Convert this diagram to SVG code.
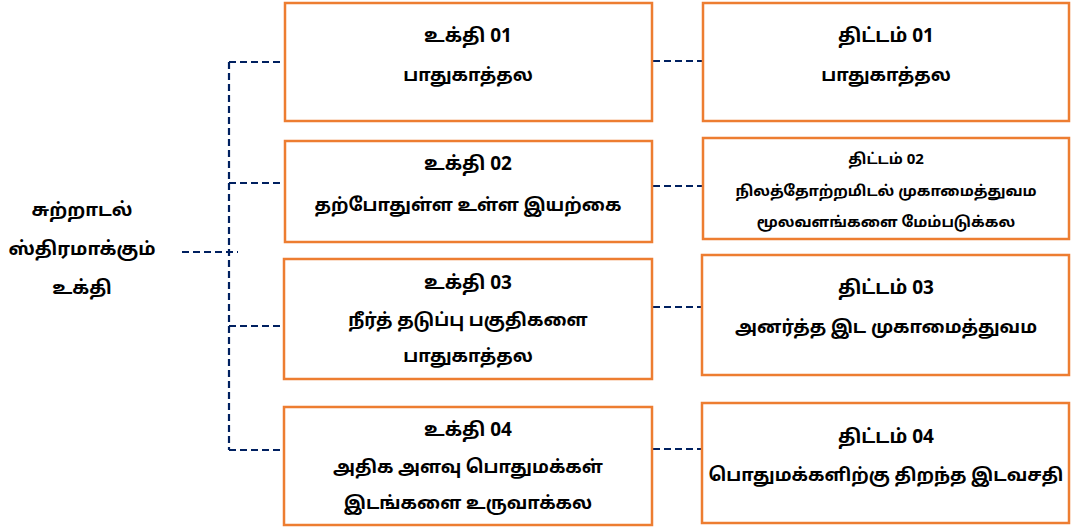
<svg xmlns="http://www.w3.org/2000/svg" width="1073" height="527" viewBox="0 0 1073 527">
  <style>
    .box { fill: #ffffff; stroke: #ED7D31; stroke-width: 2.5; }
    .conn { fill: none; stroke: #002060; stroke-width: 2.2; stroke-dasharray: 7 4; }
    text { font-family: "Noto Sans Tamil", "Noto Sans", "Latha", sans-serif; font-weight: bold; fill: #000000; text-anchor: middle; }
    .t { font-size: 19px; }
    .b { font-size: 18px; }
    .s { font-size: 15px; }
    .r { font-size: 18.5px; }
  </style>
  <rect width="1073" height="527" fill="#ffffff"/>

  <g id="connectors">
    <path class="conn" d="M182 252 H238"/>
    <path class="conn" d="M229 62 V450"/>
    <path class="conn" d="M229 62 H285"/>
    <path class="conn" d="M229 183 H285"/>
    <path class="conn" d="M229 326 H285"/>
    <path class="conn" d="M229 450 H284"/>
    <path class="conn" d="M653 61 H702"/>
    <path class="conn" d="M653 186 H702"/>
    <path class="conn" d="M653 307 H702"/>
    <path class="conn" d="M653 449 H702"/>
  </g>

  <g id="root">
    <text class="r" x="82" y="216">சுற்றாடல்</text>
    <text class="r" x="82" y="255">ஸ்திரமாக்கும்</text>
    <text class="r" x="82" y="294">உக்தி</text>
  </g>

  <g id="strategy1">
    <rect class="box" x="285" y="3" width="367" height="118"/>
    <text class="t" x="468" y="42">உக்தி 01</text>
    <text class="b" x="468" y="81">பாதுகாத்தல</text>
  </g>
  <g id="strategy2">
    <rect class="box" x="285" y="141" width="367" height="101"/>
    <text class="t" x="468" y="170">உக்தி 02</text>
    <text class="b" x="468" y="211">தற்போதுள்ள உள்ள இயற்கை</text>
  </g>
  <g id="strategy3">
    <rect class="box" x="284" y="259" width="368" height="120"/>
    <text class="t" x="468" y="289">உக்தி 03</text>
    <text class="b" x="468" y="326">நீர்த் தடுப்பு பகுதிகளை</text>
    <text class="b" x="468" y="362">பாதுகாத்தல</text>
  </g>
  <g id="strategy4">
    <rect class="box" x="284" y="407" width="368" height="118"/>
    <text class="t" x="468" y="436">உக்தி 04</text>
    <text class="b" x="468" y="473">அதிக அளவு பொதுமக்கள்</text>
    <text class="b" x="468" y="509">இடங்களை உருவாக்கல</text>
  </g>

  <g id="plan1">
    <rect class="box" x="703" y="3" width="366" height="118"/>
    <text class="t" x="886" y="42">திட்டம் 01</text>
    <text class="b" x="886" y="81">பாதுகாத்தல</text>
  </g>
  <g id="plan2">
    <rect class="box" x="703" y="138" width="366" height="101"/>
    <text class="s" x="886" y="164">திட்டம் 02</text>
    <text class="s" x="886" y="196">நிலத்தோற்றமிடல் முகாமைத்துவம</text>
    <text class="s" x="886" y="227">மூலவளங்களை மேம்படுக்கல</text>
  </g>
  <g id="plan3">
    <rect class="box" x="702" y="255" width="367" height="120"/>
    <text class="t" x="886" y="294">திட்டம் 03</text>
    <text class="b" x="886" y="333">அனர்த்த இட முகாமைத்துவம</text>
  </g>
  <g id="plan4">
    <rect class="box" x="702" y="403" width="367" height="120"/>
    <text class="t" x="886" y="443">திட்டம் 04</text>
    <text class="b" x="886" y="481">பொதுமக்களிற்கு திறந்த இடவசதி</text>
  </g>
</svg>
